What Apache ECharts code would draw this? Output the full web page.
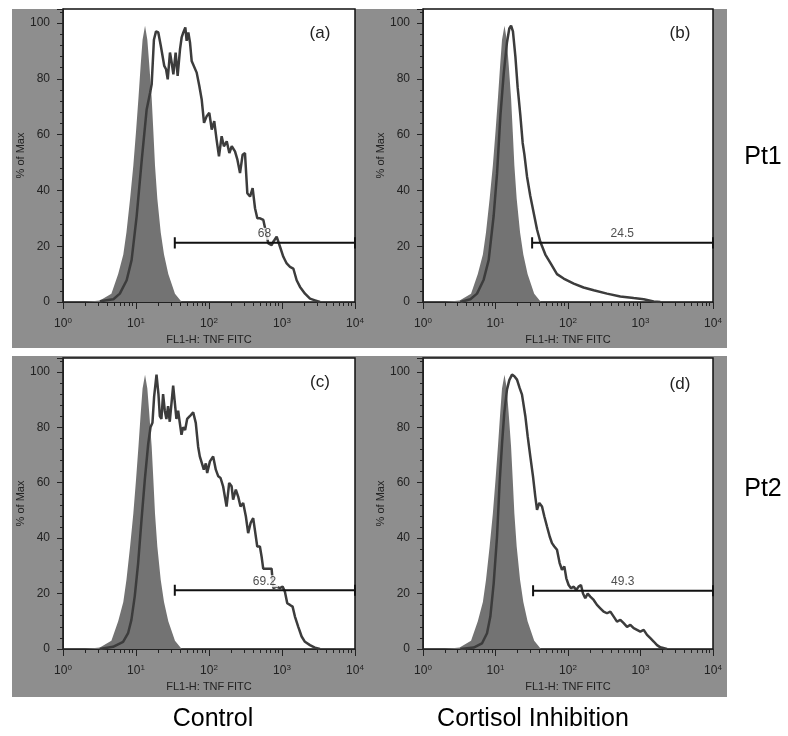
<!DOCTYPE html>
<html><head><meta charset="utf-8">
<script src="https://cdn.jsdelivr.net/npm/echarts@6/dist/echarts.min.js"></script>
<style>html,body{margin:0;padding:0;background:#fff}#c{width:788px;height:736px}</style>
</head><body><div id="c"></div>
<script>
// ---- data ----
const isoX = [2.0, 3.2, 4.6, 5.7, 6.7, 7.4, 8.3, 9.2, 10, 10.8, 11.6, 12.3, 13.3, 14.3, 15.2, 16.4, 17.3, 18.2, 19.6, 21.8, 24.2, 27.7, 34.2, 42.3];
const isoY = [0, 0.5, 3, 10, 17, 25, 37, 49, 61, 73, 85, 94, 99, 94, 85, 73, 61, 49, 37, 25, 17, 10, 3, 0];

const aX = [3.2, 4.9, 6.0, 7.45, 8.7, 10.2, 12.0, 14.0, 15.6, 16.4, 17.6, 18.8, 20.2, 21.8, 23.2, 24.4, 25.8, 27.2, 29.2, 30.8, 32.5, 34.9, 37.2, 40.1, 42.2, 44.5, 47.4, 49.4, 52.1, 54.9, 57.9, 61, 67.8, 73.7, 79.4, 85.5, 93, 101, 109, 118, 127, 137, 149, 160, 175, 190, 205, 227, 245, 266, 289, 311, 335, 365, 396, 427, 459, 500, 555, 650, 721, 760, 845, 939, 1043, 1159, 1288, 1429, 1588, 1766, 2067, 2420, 2832, 3317];
const aY = [0.3, 1, 3, 7.8, 15, 30.6, 51, 69, 75, 78, 94, 97, 96.6, 92, 92.4, 84.6, 83.4, 79.8, 89.4, 85.8, 81.6, 89.4, 81, 90.6, 94.8, 96.6, 98.4, 93.6, 96.6, 93, 86.4, 87, 82.2, 77.4, 72.6, 64.2, 66.6, 67.8, 61.8, 64.8, 58.2, 52.2, 59.4, 55.8, 57.6, 53.4, 55.8, 54, 51, 46.2, 52.8, 53.4, 39, 37.8, 40.8, 33.6, 30, 30, 29.4, 21, 20.4, 21.6, 23.4, 19.8, 16.2, 13.8, 12.6, 12, 7.8, 5.4, 3, 1.2, 0.6, 0];

const bX = [3.27, 4.5, 5.56, 6.87, 8.05, 9.44, 10.5, 11.7, 13.0, 14.4, 15.5, 16.4, 17.4, 18.8, 20.2, 22.0, 23.7, 25.0, 27.2, 30.2, 33.6, 37.4, 41.5, 48.7, 57.1, 70.5, 87.1, 120, 164, 226, 345, 527, 805, 1107, 1520, 1879];
const bY = [0, 1, 3, 8, 15, 31, 46, 67, 82, 93, 98, 99, 97, 88, 77, 67, 57, 53, 45, 38, 32, 26, 21.6, 17, 14, 10, 8.4, 6.6, 5.2, 4.2, 3, 2, 1.4, 1, 0.2, 0];

const cX = [3.18, 4.85, 6.65, 7.79, 8.65, 9.61, 10.7, 11.9, 13.2, 14.7, 15.8, 16.8, 17.7, 19.1, 20.3, 21.2, 22.3, 23.5, 24.8, 26.1, 27.5, 29.0, 30.6, 32.3, 34.0, 35.8, 37.8, 39.8, 42.0, 44.2, 47.1, 50.2, 54.6, 60.7, 65.9, 71.0, 74.8, 78.9, 84.9, 90.5, 94.4, 103, 114, 124, 134, 144, 156, 174, 189, 204, 214, 233, 251, 270, 294, 320, 344, 371, 403, 425, 458, 498, 525, 553, 615, 720, 759, 843, 936, 1019, 1096, 1180, 1285, 1397, 1504, 1671, 1857, 2062, 2415, 2826, 3311];
const cY = [0, 0.8, 2.6, 5.7, 10.5, 19, 31, 46.6, 61, 74, 80, 81.6, 91, 99, 92, 84, 83, 92, 86, 83, 87.6, 82, 82, 95, 89, 83, 86, 81.6, 77.3, 80, 79, 83, 84, 85.4, 81.6, 73, 69.5, 70, 64.7, 67, 63.5, 67.7, 69.5, 64.7, 62.3, 61.7, 58.7, 51.4, 59.9, 58.7, 53.9, 57.5, 55, 51.4, 52.7, 47.8, 41.8, 45.4, 47.2, 43, 37, 37, 33.4, 29, 29, 29, 22, 22.5, 22, 22.5, 20.7, 16.5, 15.9, 15.3, 11.7, 8, 4.5, 2.6, 1.4, 0.5, 0];

const dX = [3.27, 5.0, 6.5, 7.64, 8.49, 9.44, 10.5, 11.4, 12.3, 13.2, 14.4, 15.5, 16.9, 18.2, 19.8, 21.5, 23.2, 24.5, 25.8, 27.8, 30.2, 32.9, 35.4, 37.4, 40.2, 43.8, 47.2, 51.3, 55.9, 60.1, 64.8, 70.5, 76.7, 82.6, 89, 94.8, 102, 110, 120, 130, 140, 151, 161, 173, 187, 203, 226, 251, 279, 310, 345, 384, 427, 474, 527, 586, 652, 724, 805, 895, 995, 1107, 1230, 1368, 1520, 1690, 1879, 2321];
const dY = [0, 0.5, 2, 5.7, 11.7, 23.7, 40.6, 60, 74, 85, 93.6, 97, 99, 98.4, 97.2, 94.2, 91.8, 91.2, 84, 76.7, 69.5, 62.3, 55, 50.2, 52.7, 51.4, 47.8, 44.2, 40.6, 38.2, 37, 35.8, 31, 28.6, 29.8, 25.5, 23.1, 21.9, 22.5, 21.3, 22.5, 23.1, 20, 18.3, 20, 18.9, 17.7, 15.9, 14.7, 13.5, 12.9, 13.5, 11.7, 9.9, 10.5, 9.3, 8, 8.7, 7.5, 6.9, 6.3, 6.9, 5.1, 3.9, 2.7, 1.4, 0.6, 0];

const gateStart = [34, 32, 34, 33];
const gateEnd = 10000;
const gateY = [21.2, 21.2, 21.2, 21.0];
const gateLabelX = [575, 560, 575, 570];
const gateLabels = ['68', '24.5', '69.2', '49.3'];
const panelTags = ['(a)', '(b)', '(c)', '(d)'];
const xName = 'FL1-H: TNF FITC';
const yName = '% of Max';
const colLabels = ['Control', 'Cortisol Inhibition'];
const rowLabels = ['Pt1', 'Pt2'];

// ---- build ----
const FONT = 'Liberation Sans, Arial, sans-serif';
const zip = (xs, ys) => xs.map((x, i) => [x, ys[i]]);
const panels = [[aX, aY], [bX, bY], [cX, cY], [dX, dY]];
const grids = [
  {left: 63, top: 9, width: 292, height: 293},
  {left: 423, top: 9, width: 290, height: 293},
  {left: 63, top: 358, width: 292, height: 291},
  {left: 423, top: 358, width: 290, height: 291}
];
const minorTicks = [];
for (let k = 0; k < 4; k++) for (let m = 2; m <= 9; m++) minorTicks.push(k + Math.log10(m));

const xAxis = [], yAxis = [], series = [];
grids.forEach((g, i) => {
  xAxis.push({
    type: 'log', logBase: 10, min: 1, max: 10000, gridIndex: i,
    axisLine: {lineStyle: {color: '#222', width: 1}},
    axisTick: {length: 7, lineStyle: {color: '#222'}},
    splitLine: {show: false},
    axisLabel: {
      margin: 15, color: '#222',
      formatter: v => '{b|10}{e|' + Math.round(Math.log10(v)) + '}',
      rich: {b: {fontSize: 12, fontFamily: FONT, color: '#222', lineHeight: 14},
             e: {fontSize: 8, fontFamily: FONT, color: '#222', verticalAlign: 'top', lineHeight: 14, padding: [0, 0, 6, 0]}}
    },
    name: xName, nameLocation: 'middle', nameGap: 32,
    nameTextStyle: {fontSize: 11, fontFamily: FONT, color: '#222'}
  });
  xAxis.push({
    type: 'value', min: 0, max: 4, gridIndex: i, position: 'bottom',
    axisLine: {show: false}, axisLabel: {show: false}, splitLine: {show: false},
    axisTick: {show: true, length: 4, customValues: minorTicks, lineStyle: {color: '#222'}}
  });
  yAxis.push({
    type: 'value', min: 0, max: 105, interval: 20, gridIndex: i,
    axisLine: {show: true, lineStyle: {color: '#222', width: 1}},
    axisTick: {show: true, length: 6, lineStyle: {color: '#222'}},
    minorTick: {show: true, splitNumber: 5, length: 3, lineStyle: {color: '#222'}},
    splitLine: {show: false},
    axisLabel: {margin: 13, fontSize: 12, fontFamily: FONT, color: '#222',
                formatter: v => (v % 20 === 0 ? String(v) : '')},
    name: yName, nameLocation: 'middle', nameGap: 37,
    nameTextStyle: {fontSize: 11, fontFamily: FONT, color: '#222'}
  });
  const xi = i * 2;
  series.push({
    type: 'line', xAxisIndex: xi, yAxisIndex: i, data: zip(isoX, isoY),
    symbol: 'none', silent: true, z: 2,
    lineStyle: {width: 0}, areaStyle: {color: '#737373', opacity: 1}
  });
  series.push({
    type: 'line', xAxisIndex: xi, yAxisIndex: i, data: zip(panels[i][0], panels[i][1]),
    symbol: 'none', silent: true, z: 3,
    lineStyle: {color: '#3c3c3c', width: 2.5}
  });
  const gs = gateStart[i], gy = gateY[i];
  series.push({
    type: 'line', xAxisIndex: xi, yAxisIndex: i, symbol: 'none', silent: true, z: 4,
    data: [[gs, gy + 2], [gs, gy - 2], [gs, gy], [gateEnd, gy], [gateEnd, gy - 2], [gateEnd, gy + 2]],
    lineStyle: {color: '#111', width: 2}
  });
  series.push({
    type: 'scatter', xAxisIndex: xi, yAxisIndex: i, symbolSize: 0, silent: true, z: 6,
    data: [[gateLabelX[i], gy]],
    label: {show: true, position: 'top', distance: 3, formatter: gateLabels[i],
            fontSize: 12, fontFamily: FONT, color: '#222', backgroundColor: '#fff', padding: [0, 2]}
  });
});

const tagPos = [[320, 33], [680, 33], [320, 382], [680, 384]];
const graphic = [
  {type: 'rect', z: -100, shape: {x: 12, y: 9, width: 715, height: 339}, style: {fill: '#8e8e8e'}},
  {type: 'rect', z: -100, shape: {x: 12, y: 356, width: 715, height: 341}, style: {fill: '#8e8e8e'}}
];
panelTags.forEach((t, i) => graphic.push({type: 'text', x: tagPos[i][0], y: tagPos[i][1], z: 50,
  style: {text: t, fontSize: 17, fontFamily: FONT, fill: '#222', align: 'center', verticalAlign: 'middle'}}));
const rowPos = [[763, 157], [763, 489]];
rowLabels.forEach((t, i) => graphic.push({type: 'text', x: rowPos[i][0], y: rowPos[i][1],
  style: {text: t, fontSize: 25, fontFamily: FONT, fill: '#000', align: 'center', verticalAlign: 'middle'}}));
const colPos = [[213, 719], [533, 719]];
colLabels.forEach((t, i) => graphic.push({type: 'text', x: colPos[i][0], y: colPos[i][1],
  style: {text: t, fontSize: 25, fontFamily: FONT, fill: '#000', align: 'center', verticalAlign: 'middle'}}));

const chart = echarts.init(document.getElementById('c'));
chart.setOption({
  animation: false,
  backgroundColor: '#fff',
  grid: grids.map(g => Object.assign({show: true, backgroundColor: '#fff', borderColor: '#111', borderWidth: 1.5}, g)),
  xAxis, yAxis, series, graphic
});
</script></body></html>
